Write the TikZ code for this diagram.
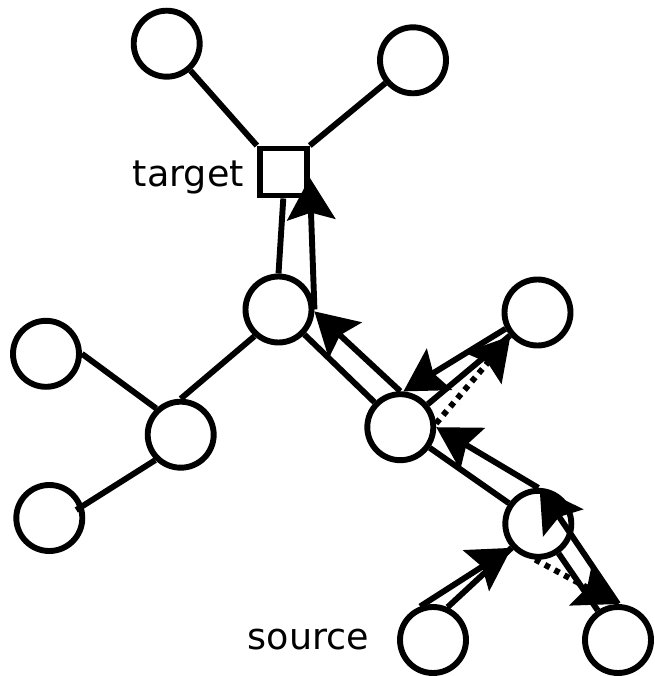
\documentclass[tikz,border=0pt]{standalone}
\usepackage{fontspec}
\setmainfont{DejaVu Sans}
\usetikzlibrary{arrows.meta,calc}
\begin{document}
\begin{tikzpicture}[x=1pt,y=-1pt,line width=5.9pt,
  vtx/.style={draw,circle,minimum size=66pt,inner sep=0pt,fill=white},
  sq/.style={draw,rectangle,minimum size=47pt,inner sep=0pt,fill=white},
  lbl/.style={font=\fontsize{36.5}{44}\selectfont,inner sep=0pt},
  hop/.style={-{Stealth[length=42pt,width=48pt,inset=7pt]}},
  probe/.style={hop,dash pattern=on 5.5pt off 5.5pt}]
\useasboundingbox (0,0) rectangle (654,676);
% nodes
\node[vtx] (A) at (166.7,43.7) {};
\node[vtx] (B) at (413,60.3) {};
\node[sq]  (T) at (283.3,172) {};
\node[vtx] (C) at (278.5,309.5) {};
\node[vtx] (D) at (537.5,312.5) {};
\node[vtx] (E) at (46,353.8) {};
\node[vtx] (F) at (180.7,434.7) {};
\node[vtx] (G) at (400.3,427.2) {};
\node[vtx] (H) at (49.3,518) {};
\node[vtx] (I) at (538.3,523.8) {};
\node[vtx] (J) at (433,640) {};
\node[vtx] (K) at (618,640) {};
\node[lbl,anchor=base east] (tl) at (246.7,187) {target};
\node[lbl,anchor=base west] (sl) at (245,649) {source};
\coordinate (Hin) at ($(H)+(27,-8)$);
% plain edges
\draw (A) -- (T.north west);
\draw (B) -- (T.north east);
\draw (T.south) -- (C.north);
\draw (F.north) -- (C.228);
\draw (E.east) -- (F.133);
\draw (F.225) -- (Hin);
\draw (C) -- (G);
\draw (G) -- (D);
\draw (G) -- (I);
\draw (I) -- (K);
\draw (J.66) -- (I.222);
% arrows
\draw[hop] (C.east) -- (T.-12);
\draw[hop] (G.north) -- (C.-3);
\draw[hop] (D.207) -- (G.85);
\draw[probe] (G.6) -- (D.221);
\draw[hop] (I.north) -- (G.east);
\draw[hop] (K.north) -- (I.88);
\draw[probe] (I.265) -- (K.north);
\draw[hop] (J.111) -- (I.222);
\end{tikzpicture}
\end{document}
